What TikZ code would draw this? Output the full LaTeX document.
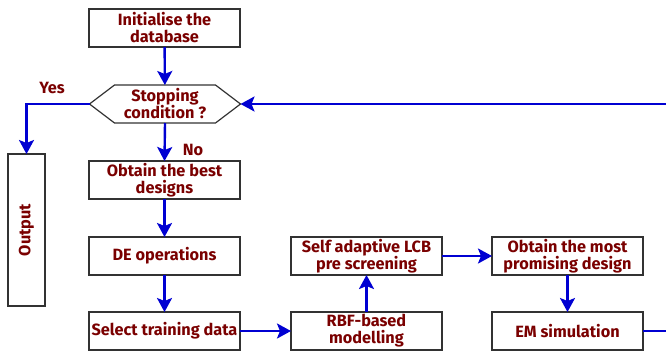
\documentclass[tikz,border=0pt]{standalone}
\usepackage{fontspec}
\setmainfont{Fira Sans}
\usetikzlibrary{arrows.meta}
\definecolor{txtred}{RGB}{122,0,0}
\definecolor{flowblue}{RGB}{0,0,210}
\definecolor{boxgray}{RGB}{50,50,50}
\begin{document}
\begin{tikzpicture}[x=1pt,y=-1pt,
  txt/.style={text=txtred,font=\fontsize{16.3}{17}\selectfont\bfseries},
  box/.style={txt,draw=boxgray,line width=1.2pt,minimum width=151pt,minimum height=38pt,inner sep=0pt,outer sep=0pt,align=center},
  flow/.style={draw=flowblue,line width=2.4pt,-{Stealth[length=14pt,width=15pt,inset=3pt]}}]
\useasboundingbox (0,0) rectangle (666,351);
\node[box] (init) at (164.5,28) {Initialise the\\database};
\node[box,draw=none] (hex) at (165,104) {Stopping\\condition ?};
\draw[boxgray,line width=1.2pt,line join=miter] (hex.west) -- ([xshift=25pt]hex.north west) -- ([xshift=-25pt]hex.north east) -- (hex.east) -- ([xshift=-25pt]hex.south east) -- ([xshift=25pt]hex.south west) -- cycle;
\node[box,minimum width=37pt,minimum height=152pt] (out) at (26.5,230) {\rotatebox{90}{Output}};
\node[box] (best) at (164.5,180) {Obtain the best\\designs};
\node[box] (de) at (164.5,256) {DE operations};
\node[box] (sel) at (164.5,331) {Select training data};
\node[box] (rbf) at (366.5,331) {RBF-based\\modelling};
\node[box] (lcb) at (366.5,256) {Self adaptive LCB\\pre screening};
\node[box] (prom) at (567.5,256) {Obtain the most\\promising design};
\node[box] (em) at (567.5,331) {EM simulation};
\node[txt] (yes) at (52,88) {Yes};
\node[txt] (no) at (193,150) {No};
\coordinate (rb) at (690,331);
\coordinate (rt) at (690,104);
\draw[flow] (init) -- (hex);
\draw[flow] (hex.south) -- (best.north);
\draw[flow] (hex.west) -| (out.north);
\draw[flow] (best) -- (de);
\draw[flow] (de) -- (sel);
\draw[flow] (sel) -- (rbf);
\draw[flow] (rbf) -- (lcb);
\draw[flow] (lcb) -- (prom);
\draw[flow] (prom) -- (em);
\draw[flow] (em.east) -- (rb) -- (rt) -- (hex.east);
\end{tikzpicture}
\end{document}
